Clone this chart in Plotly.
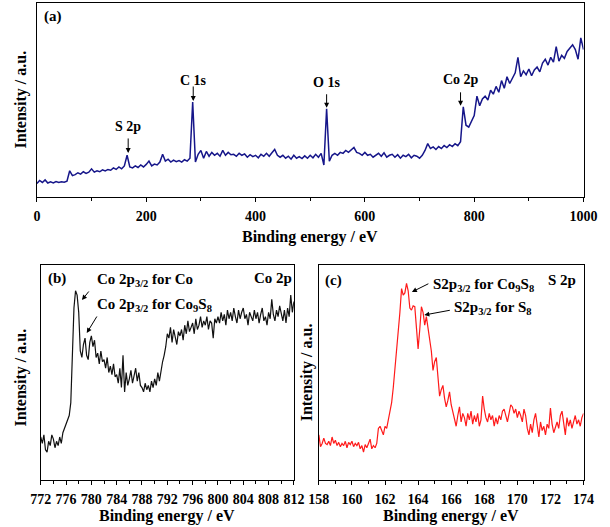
import plotly.graph_objects as go

# ---------------- data ----------------
# (a) survey spectrum, 0-1000 eV, 5 eV step
survey_start, survey_step = 0, 5
survey_intensity = [
    7, 8.5, 7.5, 8.8, 7.2, 7.8, 7.3, 8, 7.5, 7.9,
    7.6, 8.2, 13.5, 11, 11.5, 12.5, 11.8, 13, 12.2, 12.8,
    14.5, 12.8, 13.5, 13, 14, 13.4, 14.2, 13.8, 15, 14.2,
    15.5, 14.5, 16, 21.5, 15.5, 15, 16, 15.2, 16.5, 15.5,
    16.8, 18.5, 16, 17, 16.5, 18, 22, 18.5, 19.5, 18,
    19, 18.2, 18.8, 18, 19.2, 18.5, 20, 49, 18, 22,
    24, 20, 23.5, 21, 23, 21.5, 22.5, 21, 24, 21.5,
    23, 21.8, 22, 21, 22.5, 21.5, 22.2, 20.5, 21.8, 20.8,
    21.5, 20.2, 22, 21, 22.5, 21, 22.8, 24.5, 21.5, 20.5,
    21.5, 20, 21, 19.5, 21.5, 20, 20.8, 19.8, 21.2, 20,
    21.5, 20.2, 22, 20.5, 22.5, 16.5, 45.5, 18.5, 21.5, 22.5,
    21.5, 23, 22.5, 24, 23, 24.5, 25.5, 23, 22.5, 21.5,
    23, 21.5, 22, 20.5, 21.5, 22.5, 21, 22.8, 20.5, 21.5,
    22, 20.5, 21.8, 20, 21.5, 20.8, 22, 20.2, 21.5, 21,
    20, 21.5, 24, 27.5, 25, 25.8, 24.5, 26, 25, 26.5,
    25.5, 27, 26, 27.5, 26.5, 28.5, 46.5, 37, 36, 39,
    42, 52, 47, 50.5, 52, 50, 55, 53, 57, 54,
    60, 56, 62, 58.5, 61, 64, 72, 62, 65, 63,
    66, 62.5, 65.5, 67, 64.5, 69, 71, 68, 72, 69.5,
    77.5, 70, 73, 71.5, 75, 77, 78.5, 76, 71, 82,
    76,
]
survey_energy = [survey_start + survey_step * i for i in range(len(survey_intensity))]

# (b) Co 2p, 772-812 eV, 0.25 eV step
co_start, co_step = 772, 0.25
co_intensity = [
    20, 17, 21, 14, 13, 18, 16, 21,
    19, 15, 18, 16, 20, 17, 22, 24,
    26, 28, 30, 36, 56, 80, 88, 86,
    78, 60, 57, 63, 66, 58, 56, 64,
    67, 62, 65, 57, 59, 54, 60, 55,
    56, 52, 57, 50, 53, 49, 54, 48,
    49, 45, 52, 43, 58, 41, 50, 44,
    47, 51, 45, 49, 52, 46, 50, 44,
    43, 41, 45, 42, 44, 41, 46, 43,
    47, 44, 50, 46, 51, 55, 58, 62,
    68, 66, 71, 64, 70, 67, 63, 69,
    67, 70, 65, 72, 68, 74, 69, 71,
    73, 68, 75, 70, 72, 76, 71, 74,
    72, 76, 70, 74, 73, 66, 75, 73,
    76, 73, 78, 74, 77, 72, 79, 75,
    78, 74, 80, 76, 73, 79, 75, 78,
    80, 75, 77, 72, 78, 76, 74, 79,
    75, 78, 73, 77, 80, 74, 76, 72,
    78, 75, 84, 77, 74, 79, 76, 81,
    77, 74, 79, 73, 80, 76, 86, 78,
    83,
]
co_energy = [co_start + co_step * i for i in range(len(co_intensity))]

# (c) S 2p, 158-174 eV, 0.1 eV step
s_start, s_step = 158, 0.1
s_intensity = [
    21, 15.5, 17, 19.5, 17, 16.5, 18, 16, 20, 17,
    18.5, 16, 17.5, 15.5, 17, 16, 18, 15, 17.5, 16.5,
    18, 15.5, 17, 16, 17.5, 14.5, 16, 13, 16.5, 15,
    17, 19, 14.5, 16, 15, 17, 24, 25, 23, 21,
    25, 24, 28, 32, 36, 43, 51, 60, 68, 78,
    89, 86, 87, 91.5, 88, 80, 79, 81, 80.6, 70,
    61, 70, 80.6, 78, 72, 76, 70, 65, 60, 51,
    55, 57, 48, 39, 42, 44, 38, 34, 37, 41,
    35, 32, 28, 25, 30, 34, 27, 31, 29, 25,
    31, 28, 32, 26, 30, 27, 31, 25, 28, 39,
    33, 29, 27, 31, 28, 30, 25, 29, 26, 30,
    28, 32, 33, 30, 27, 31, 35, 34, 31, 33,
    29, 32, 30, 27, 33, 30, 24, 21, 26, 22,
    28, 31, 24, 20, 27, 23, 25, 21, 26, 24,
    33.5, 26, 22, 25, 27, 24, 30, 32, 26, 21,
    29, 25, 28, 24, 27, 30, 26, 28, 25, 29,
    31,
]
s_energy = [round(s_start + s_step * i, 2) for i in range(len(s_intensity))]

a_ticks = [0, 200, 400, 600, 800, 1000]
b_ticks = list(range(772, 813, 4))
c_ticks = list(range(158, 175, 2))

# ---------------- figure ----------------
W, H = 610, 527
FONT = "Liberation Serif, Times New Roman, serif"

def px(x):
    return x / W

def py(y):
    return 1 - y / H

fig = go.Figure()
fig.add_trace(go.Scatter(x=survey_energy, y=survey_intensity, mode="lines",
                         line=dict(color="#16168a", width=1.5), xaxis="x", yaxis="y"))
fig.add_trace(go.Scatter(x=co_energy, y=co_intensity, mode="lines",
                         line=dict(color="#111111", width=1.2), xaxis="x2", yaxis="y2"))
fig.add_trace(go.Scatter(x=s_energy, y=s_intensity, mode="lines",
                         line=dict(color="#ff1a1a", width=1.2), xaxis="x3", yaxis="y3"))

tickfont = dict(family=FONT, size=14, color="black", weight="bold")

def xaxis(dom, rng, ticks, minor_dtick, anchor):
    return dict(domain=dom, range=rng, tickvals=ticks, showline=True, mirror=True,
                anchor=anchor,
                linecolor="black", linewidth=1.3, ticks="outside", ticklen=4,
                tickwidth=1.2, tickcolor="black", tickfont=tickfont, showgrid=False,
                ticklabelstandoff=2,
                zeroline=False, minor=dict(dtick=minor_dtick, ticks="outside", ticklen=3,
                                           tickcolor="black", tickwidth=1.2))

def yaxis(dom, rng, anchor):
    return dict(domain=dom, range=rng, showline=True, mirror=True, linecolor="black",
                anchor=anchor,
                linewidth=1.3, showticklabels=False, ticks="", showgrid=False,
                zeroline=False)

fig.update_layout(
    width=W, height=H, margin=dict(l=0, r=0, t=0, b=0),
    paper_bgcolor="white", plot_bgcolor="white", showlegend=False,
    xaxis=xaxis([px(27), px(597)], [0, 1000], a_ticks, 100, "y"),
    yaxis=yaxis([py(197), py(3)], [0, 100], "x"),
    xaxis2=xaxis([px(31), px(295)], [772, 812], b_ticks, 2, "y2"),
    yaxis2=yaxis([py(480), py(265)], [0, 100], "x2"),
    xaxis3=xaxis([px(321), px(597)], [158, 174], c_ticks, 1, "y3"),
    yaxis3=yaxis([py(480), py(265)], [0, 100], "x3"),
)

def label(text, x, y, size=14, xanchor="center", angle=0):
    fig.add_annotation(text=text, x=x, y=y, xref="paper", yref="paper", showarrow=False,
                       xanchor=xanchor, yanchor="middle", textangle=angle,
                       font=dict(family=FONT, size=size, color="black", weight="bold"))

def arrow(xref, yref, x, y, ax, ay):
    fig.add_annotation(text="", x=x, y=y, xref=xref, yref=yref, ax=ax, ay=ay,
                       axref="pixel", ayref="pixel", showarrow=True, arrowhead=2,
                       arrowsize=1, arrowwidth=1.0, arrowcolor="black")

def parrow(tipx, tipy, tailx, taily):
    # tip and tail given in page pixels
    arrow("paper", "paper", px(tipx), py(tipy), tailx - tipx, taily - tipy)

def dlabel(text, xref, yref, x, y, size=14, xanchor="center"):
    fig.add_annotation(text=text, x=x, y=y, xref=xref, yref=yref, showarrow=False,
                       xanchor=xanchor, yanchor="middle",
                       font=dict(family=FONT, size=size, color="black", weight="bold"))

# axis titles
label("Binding energy / eV", px(312), py(237), 16)
label("Binding energy / eV", px(163), py(516), 16)
label("Binding energy / eV", px(459), py(516), 16)
label("Intensity / a.u.", px(10), py(100), 16, angle=-90)
label("Intensity / a.u.", px(10), py(378), 16, angle=-90)
label("Intensity / a.u.", px(309), py(372), 16, angle=-90)

# panel labels
label("(a)", px(44), py(16), 15)
label("(b)", px(48), py(278), 15)
label("Co 2p", px(273), py(278), 15)
label("(c)", px(336), py(280), 15)
label("S 2p", px(575), py(280), 15)

# panel (a) peak labels
dlabel("S 2p", "x", "y", 167, 36.5)
arrow("x", "y", 167, 22.7, 0, -16)
dlabel("C 1s", "x", "y", 286, 60)
arrow("x", "y", 286, 49.5, 0, -16)
dlabel("O 1s", "x", "y", 530, 59)
arrow("x", "y", 530, 46, 0, -15)
dlabel("Co 2p", "x", "y", 775, 60.5)
arrow("x", "y", 775, 47, 0, -15)

# panel (b)
label("Co 2p<sub>3/2</sub> for Co", px(88), py(280), 15, xanchor="left")
parrow(74, 300, 82, 290)
label("Co 2p<sub>3/2</sub> for Co<sub>9</sub>S<sub>8</sub>", px(88), py(305), 15, xanchor="left")
parrow(79, 333, 90, 315)

# panel (c)
label("S2p<sub>3/2</sub> for Co<sub>9</sub>S<sub>8</sub>", px(438), py(285), 15, xanchor="left")
parrow(418, 292, 436, 283)
label("S2p<sub>3/2</sub> for S<sub>8</sub>", px(460), py(308), 15, xanchor="left")
parrow(431, 315, 458, 310)

fig.write_html("out.html", config={"displayModeBar": False},
               post_script="document.body.style.margin='0';document.body.style.overflow='hidden';")
